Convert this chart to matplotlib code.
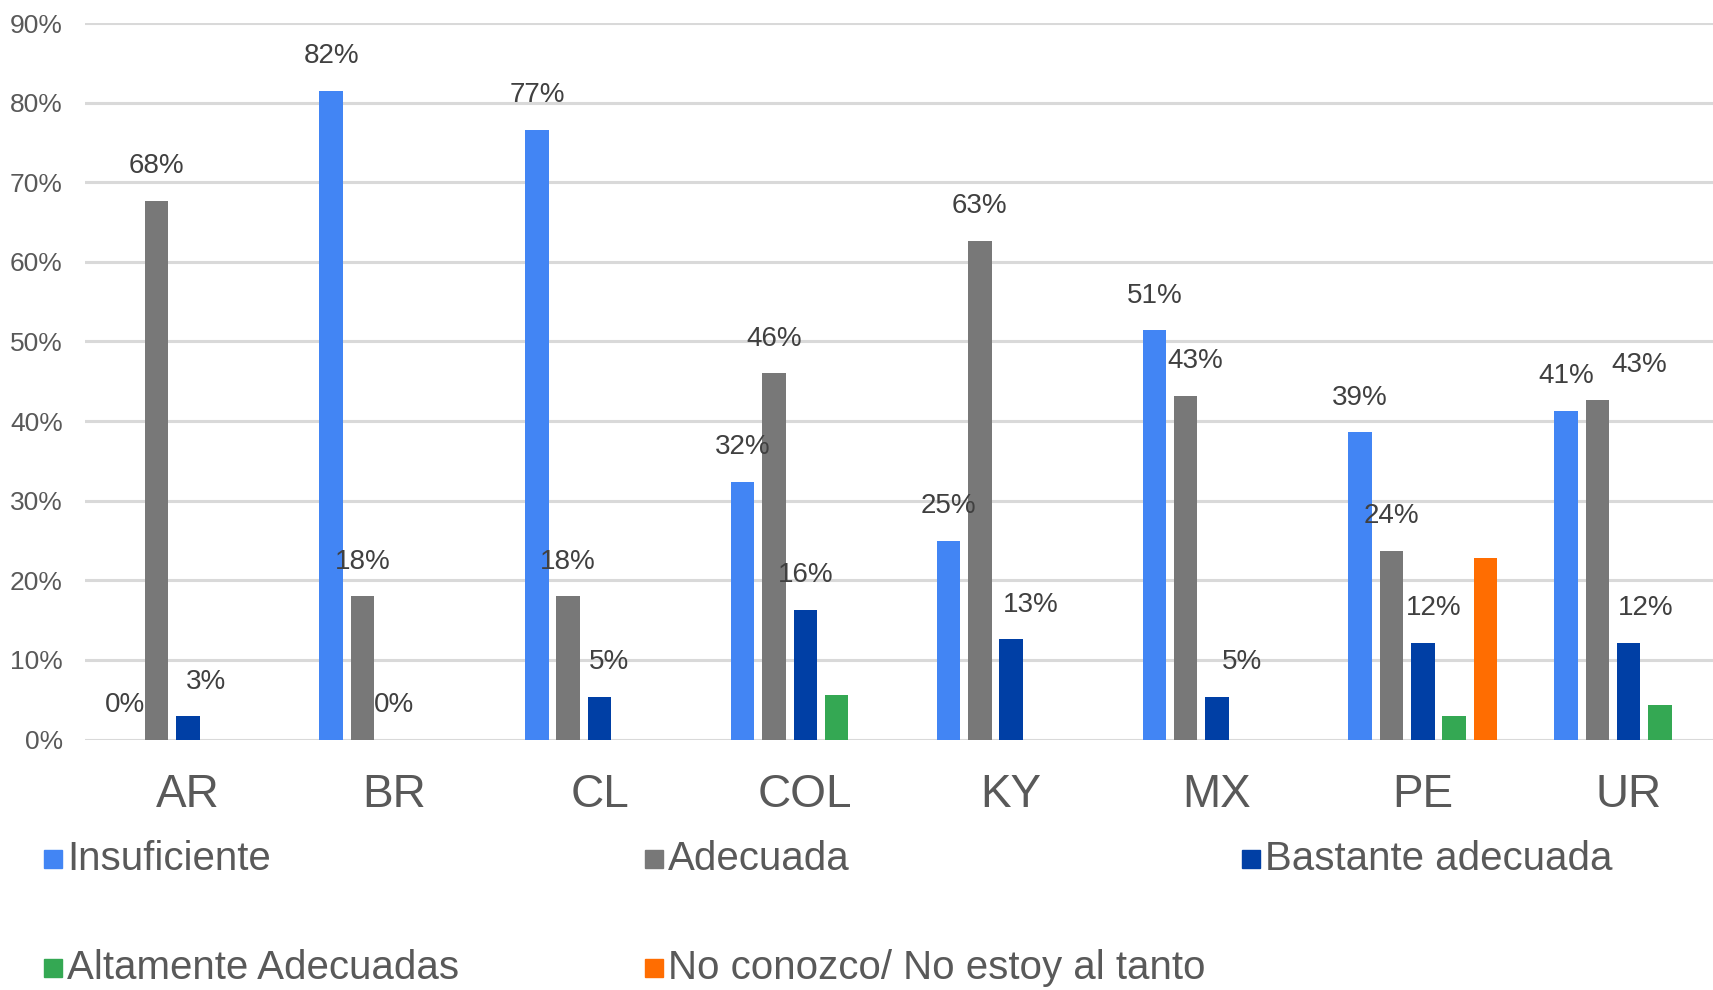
import numpy as np
import matplotlib.pyplot as plt
from matplotlib.patches import Rectangle

# Data
countries = ["AR", "BR", "CL", "COL", "KY", "MX", "PE", "UR"]
series_names = ["Insuficiente", "Adecuada", "Bastante adecuada",
                "Altamente Adecuadas", "No conozco/ No estoy al tanto"]
insuficiente = [0.00, 0.815, 0.766, 0.324, 0.25, 0.514, 0.386, 0.413]
adecuada = [0.677, 0.18, 0.18, 0.46, 0.626, 0.432, 0.237, 0.427]
bastante = [0.029, 0.00, 0.054, 0.163, 0.126, 0.054, 0.121, 0.121]
altamente = [np.nan, np.nan, np.nan, 0.056, np.nan, np.nan, 0.029, 0.044]
no_conozco = [np.nan, np.nan, np.nan, np.nan, np.nan, np.nan, 0.228, np.nan]
yticks = [0, 0.1, 0.2, 0.3, 0.4, 0.5, 0.6, 0.7, 0.8, 0.9]

series = [insuficiente, adecuada, bastante, altamente, no_conozco]
colors = ["#4285F4", "#787878", "#003FA5", "#34A853", "#FF6D01"]
labelled = [True, True, True, False, False]
# horizontal nudges of value labels (points), keyed by (series, country)
label_dx = {(1, 5): 7, (1, 7): 30,
            (2, 0): 13, (2, 2): 7, (2, 4): 14, (2, 5): 18, (2, 6): 8, (2, 7): 12}

fam = ["Liberation Sans", "DejaVu Sans"]

fig = plt.figure(figsize=(17.13, 9.9), dpi=100)
ax = fig.add_axes([0.0496, 0.253, 0.9504, 0.7237])

x = np.arange(len(countries))
pitch = 0.152
width = 0.114
for i, (vals, col) in enumerate(zip(series, colors)):
    vals = np.array(vals, dtype=float)
    pos = x + (i - 2) * pitch
    ok = ~np.isnan(vals)
    ax.bar(pos[ok], vals[ok], width=width, color=col, zorder=3)
    if labelled[i]:
        for j in np.where(ok)[0]:
            dx = label_dx.get((i, j), 0)
            ax.annotate(f"{vals[j]*100:.0f}%", (pos[j], vals[j]),
                        xytext=(dx, 25), textcoords="offset points",
                        ha="center", va="center", fontsize=20,
                        color="#404040", family=fam, zorder=4)

ax.set_xlim(-0.5, 7.41)
ax.set_ylim(0, 0.9)
ax.set_yticks(yticks)
ax.set_yticklabels([f"{t*100:.0f}%" for t in yticks], family=fam,
                   fontsize=19, color="#595959")
ax.set_xticks(x)
ax.set_xticklabels(countries, family=fam, fontsize=33, color="#595959")
ax.tick_params(axis="x", length=0, pad=24)
ax.tick_params(axis="y", length=0, pad=16)
ax.grid(axis="y", color="#d9d9d9", linewidth=2.2, zorder=0)
ax.set_axisbelow(True)
for s in ax.spines.values():
    s.set_visible(False)

# Legend, drawn by hand in three columns
col_x = [0.0257, 0.3765, 0.725]
row_y = [0.1323, 0.0222]
for k, (name, col) in enumerate(zip(series_names, colors)):
    cx = col_x[k % 3]
    cy = row_y[k // 3]
    fig.patches.append(Rectangle((cx, cy - 0.0095), 0.0105, 0.019,
                                 transform=fig.transFigure, color=col))
    fig.text(cx + 0.0135, cy, name, ha="left", va="center", fontsize=29,
             family=fam, color="#595959")

fig.savefig("out.png", dpi=100)
